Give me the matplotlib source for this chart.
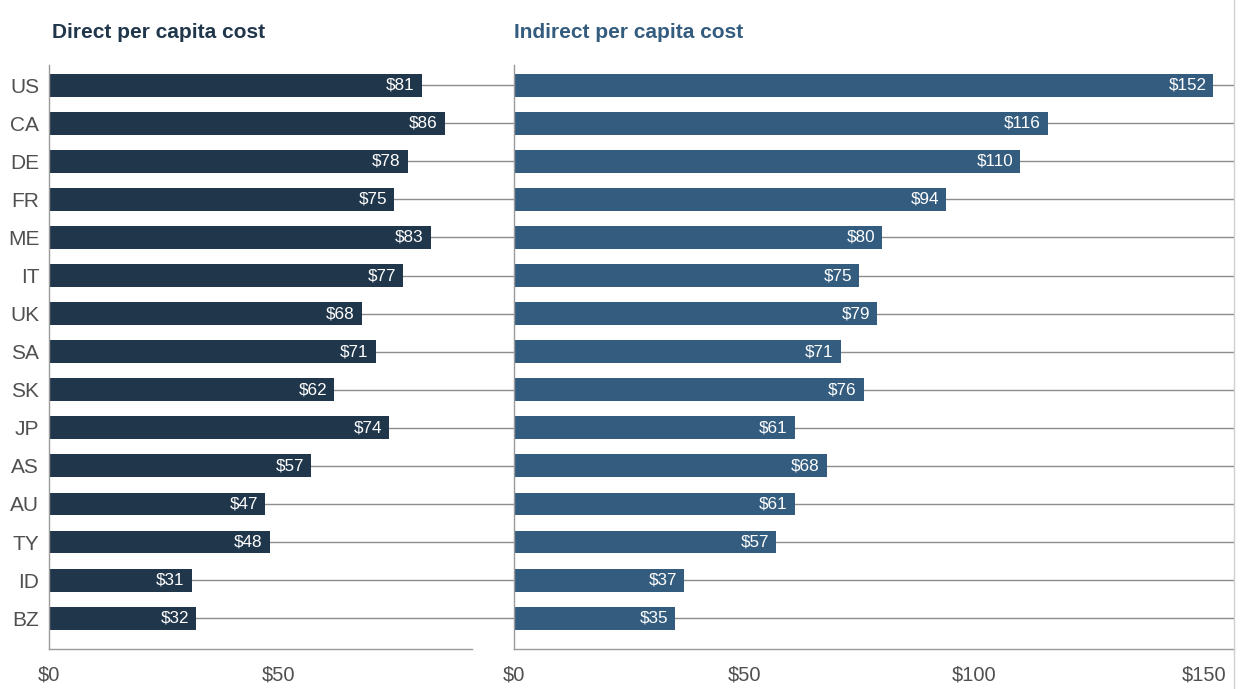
import matplotlib.pyplot as plt
from matplotlib.lines import Line2D

countries = ["US", "CA", "DE", "FR", "ME", "IT", "UK", "SA", "SK", "JP",
             "AS", "AU", "TY", "ID", "BZ"]
direct_cost = [81, 86, 78, 75, 83, 77, 68, 71, 62, 74, 57, 47, 48, 31, 32]
indirect_cost = [152, 116, 110, 94, 80, 75, 79, 71, 76, 61, 68, 61, 57, 37, 35]

left_ticks = [0, 50]
right_ticks = [0, 50, 100, 150]

DIRECT_COLOR = "#20364b"
INDIRECT_COLOR = "#335c7f"
GRID_COLOR = "#8c8c8c"
SPINE_COLOR = "#9a9a9a"
TEXT_COLOR = "#505050"

plt.rcParams["font.family"] = ["Liberation Sans", "DejaVu Sans"]

W, H = 1240, 689
fig = plt.figure(figsize=(W / 100, H / 100), dpi=100)


def px_axes(x0, x1, y0, y1):
    return fig.add_axes([x0 / W, 1 - y1 / H, (x1 - x0) / W, (y1 - y0) / H])


ax_l = px_axes(49, 514, 65, 649)
ax_r = px_axes(514, 1234, 65, 649)

ypos = list(range(len(countries)))

panels = (
    (ax_l, direct_cost, DIRECT_COLOR, "Direct per capita cost", left_ticks, 465 / 4.6, 3 / 465),
    (ax_r, indirect_cost, INDIRECT_COLOR, "Indirect per capita cost", right_ticks, 720 / 4.6, 0.0),
)

for ax, vals, color, title, ticks, xmax, title_x in panels:
    # horizontal guide lines behind each bar
    for y in ypos:
        ax.axhline(y, color=GRID_COLOR, lw=1, zorder=1)
    ax.barh(ypos, vals, height=0.6, color=color, zorder=2)
    for y, v in zip(ypos, vals):
        ax.text(v - 1.5, y, f"${v}", color="white", fontsize=12.3,
                ha="right", va="center", zorder=3)
    ax.set_xlim(0, xmax)
    ax.set_ylim(len(countries) - 1 + 0.81, -0.53)
    ax.set_xticks(ticks)
    ax.set_xticklabels([f"${t}" for t in ticks])
    ax.tick_params(axis="x", length=0, pad=12, labelsize=14.5, labelcolor=TEXT_COLOR)
    ax.tick_params(axis="y", length=0)
    for side in ("top", "right"):
        ax.spines[side].set_visible(False)
    for side in ("left", "bottom"):
        ax.spines[side].set_color(SPINE_COLOR)
        ax.spines[side].set_linewidth(1)
    ax.text(title_x, 1.04, title, transform=ax.transAxes, fontsize=15,
            fontweight="bold", color=color, ha="left", va="bottom")

ax_l.spines["bottom"].set_bounds(0, 92)
ax_l.set_yticks(ypos)
ax_l.set_yticklabels(countries)
ax_l.tick_params(axis="y", pad=7, labelsize=15, labelcolor=TEXT_COLOR)
ax_r.set_yticks([])

# thin frame edge at the far right of the screenshot
fig.add_artist(Line2D([1233.5 / W, 1233.5 / W], [0, 1], color="#d0d0d0", lw=1))

fig.savefig("out.png", dpi=100)
